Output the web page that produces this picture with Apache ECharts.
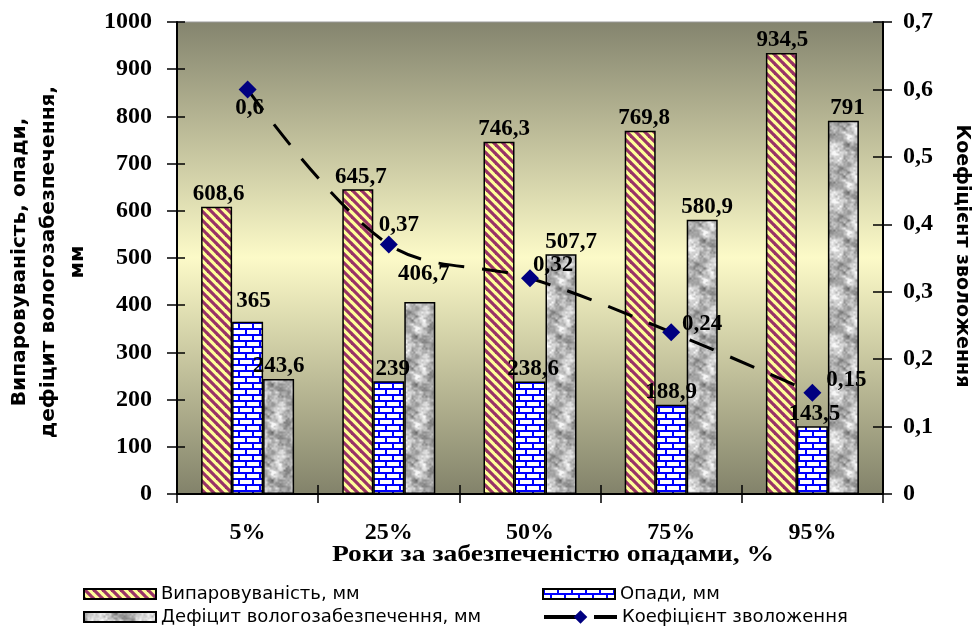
<!DOCTYPE html>
<html>
<head>
<meta charset="utf-8">
<script src="https://cdn.jsdelivr.net/npm/echarts@6/dist/echarts.min.js"></script>
<style>
  html, body { margin: 0; padding: 0; background: #ffffff; }
  #chart { width: 973px; height: 631px; }
</style>
</head>
<body>
<div id="chart"></div>
<script>
// ---- data ----
const categories = ['5%', '25%', '50%', '75%', '95%'];
const evaporation = [608.6, 645.7, 746.3, 769.8, 934.5];
const precipitation = [365, 239, 238.6, 188.9, 143.5];
const deficit = [243.6, 406.7, 507.7, 580.9, 791];
const moistureCoef = [0.6, 0.37, 0.32, 0.24, 0.15];

// axis scales: [min, max, step]
const mmAxis = [0, 1000, 100];
const coefAxis = [0, 0.7, 0.1];

const seriesNames = ['Випаровуваність, мм', 'Опади, мм', 'Дефіцит вологозабезпечення, мм', 'Коефіцієнт зволоження'];

// ---- label nudges (pixels) ----
const evapShift = [[2, 0], [3, 0], [5, 0], [4, 0], [1, 0]];
const precShift = [[6, -8], [4, 0], [3, 0], [0, 0], [2, 0]];
const defShift = [[0, 0], [4, -15], [10, 0], [5, 0], [4, 0]];
const coefShift = [[2, 19], [10, -19], [23, -13], [31, -8], [34, -13]];

const comma = v => String(v).replace('.', ',');

// ---- fill patterns ----
function stripeTile() {
  const s = 9;
  const c = document.createElement('canvas');
  c.width = s; c.height = s;
  const g = c.getContext('2d');
  g.fillStyle = '#ffff99';
  g.fillRect(0, 0, s, s);
  g.strokeStyle = '#993366';
  g.lineWidth = 3.2;
  for (let o = -s; o <= s; o += s) {
    g.beginPath();
    g.moveTo(o - 1, -1);
    g.lineTo(o + s + 1, s + 1);
    g.stroke();
  }
  return c;
}

function brickTile() {
  const w = 14, h = 12;
  const c = document.createElement('canvas');
  c.width = w; c.height = h;
  const g = c.getContext('2d');
  g.fillStyle = '#0000ff';
  g.fillRect(0, 0, w, h);
  g.fillStyle = '#ffffff';
  g.fillRect(2, 0, 12, 4);
  g.fillRect(0, 6, 7, 4);
  g.fillRect(9, 6, 5, 4);
  return c;
}

function hash2(x, y, s) {
  let n = Math.imul(x, 374761393) ^ Math.imul(y, 668265263) ^ Math.imul(s, 1274126177);
  n = Math.imul(n ^ (n >>> 13), 1274126177);
  n ^= n >>> 16;
  return (n >>> 0) / 4294967296;
}
function valueNoise(x, y, cell, size, seed) {
  const n = size / cell;
  const gx = x / cell, gy = y / cell;
  const x0 = Math.floor(gx), y0 = Math.floor(gy);
  const fx = gx - x0, fy = gy - y0;
  const sx = fx * fx * (3 - 2 * fx), sy = fy * fy * (3 - 2 * fy);
  const a = hash2(x0 % n, y0 % n, seed);
  const b = hash2((x0 + 1) % n, y0 % n, seed);
  const c = hash2(x0 % n, (y0 + 1) % n, seed);
  const d = hash2((x0 + 1) % n, (y0 + 1) % n, seed);
  return a + (b - a) * sx + (c - a) * sy + (a - b - c + d) * sx * sy;
}
function graniteTile() {
  const s = 48;
  const c = document.createElement('canvas');
  c.width = s; c.height = s;
  const g = c.getContext('2d');
  const img = g.createImageData(s, s);
  for (let y = 0; y < s; y++) {
    for (let x = 0; x < s; x++) {
      const v = 0.4 * valueNoise(x, y, 8, s, 1) + 0.35 * valueNoise(x, y, 4, s, 2) + 0.25 * valueNoise(x, y, 2, s, 3);
      let gray = 85 + 200 * v;
      gray = Math.max(100, Math.min(248, gray));
      const i = (y * s + x) * 4;
      img.data[i] = gray; img.data[i + 1] = gray; img.data[i + 2] = gray; img.data[i + 3] = 255;
    }
  }
  g.putImageData(img, 0, 0);
  return c;
}

const stripeFill = { image: stripeTile(), repeat: 'repeat' };
const brickFill = { image: brickTile(), repeat: 'repeat' };
const graniteFill = { image: graniteTile(), repeat: 'repeat' };

// ---- text styles ----
const serifBold = { fontFamily: 'Liberation Serif', fontWeight: 'bold', color: '#000' };
const barLabel = Object.assign({ show: true, position: 'top', distance: 1, fontSize: 23, formatter: p => comma(p.value) }, serifBold);

function barData(values, shifts) {
  return values.map((v, i) => ({ value: v, label: { offset: shifts[i] } }));
}

const legendText = { fontFamily: 'DejaVu Sans', fontSize: 18, color: '#000', lineHeight: 20 };
function legendAt(name, left, top, extra) {
  return Object.assign({
    data: [{ name: name, icon: 'rect' }], left: left, top: top, padding: 0,
    itemWidth: 72, itemHeight: 10, selectedMode: false,
    textStyle: legendText
  }, extra || {});
}

const chart = echarts.init(document.getElementById('chart'), null, { renderer: 'canvas' });

const axisBlack = { lineStyle: { color: '#000', width: 2 } };
const tickStyle = { color: '#000', width: 1.5 };

const option = {
  animation: false,
  grid: {
    left: 177, right: 90, top: 22, bottom: 137,
    show: true,
    borderColor: '#9a9a9a', borderWidth: 1,
    backgroundColor: {
      type: 'linear', x: 0, y: 0, x2: 0, y2: 1,
      colorStops: [
        { offset: 0, color: '#84846e' },
        { offset: 0.5, color: '#fcfac8' },
        { offset: 1, color: '#82826a' }
      ]
    }
  },
  legend: [
    legendAt(seriesNames[0], 83, 584),
    legendAt(seriesNames[2], 83, 607),
    legendAt(seriesNames[1], 542, 584),
    Object.assign(legendAt(seriesNames[3], 542, 607, { itemWidth: 73, itemHeight: 17, lineStyle: { type: [36, 14], width: 4 } }), { data: [seriesNames[3]] })
  ],
  xAxis: [
    {
      type: 'category', data: categories, boundaryGap: true,
      axisLine: axisBlack,
      axisTick: { show: true, length: 9, alignWithLabel: false, lineStyle: tickStyle },
      axisLabel: Object.assign({ fontSize: 24, margin: 27 }, serifBold),
      splitLine: { show: false }
    },
    {
      type: 'category', data: categories, position: 'bottom', boundaryGap: true,
      axisLine: { show: false },
      axisTick: { show: true, inside: true, length: 9, alignWithLabel: false, lineStyle: tickStyle },
      axisLabel: { show: false }, splitLine: { show: false }
    }
  ],
  yAxis: [
    {
      type: 'value', min: mmAxis[0], max: mmAxis[1], interval: mmAxis[2], position: 'left',
      axisLine: Object.assign({ show: true }, axisBlack),
      axisTick: { show: true, length: 10, lineStyle: tickStyle },
      axisLabel: Object.assign({ fontSize: 24, margin: 25, formatter: v => String(v) }, serifBold),
      splitLine: { show: false }
    },
    {
      type: 'value', min: coefAxis[0], max: coefAxis[1], interval: coefAxis[2], position: 'right',
      axisLine: Object.assign({ show: true }, axisBlack),
      axisTick: { show: true, length: 9, lineStyle: tickStyle },
      axisLabel: Object.assign({ fontSize: 24, margin: 20, formatter: v => v === 0 ? '0' : v.toFixed(1).replace('.', ',') }, serifBold),
      splitLine: { show: false }
    },
    {
      type: 'value', min: mmAxis[0], max: mmAxis[1], interval: mmAxis[2], position: 'left',
      axisLine: { show: false },
      axisTick: { show: true, inside: true, length: 8, lineStyle: tickStyle },
      axisLabel: { show: false }, splitLine: { show: false }
    },
    {
      type: 'value', min: coefAxis[0], max: coefAxis[1], interval: coefAxis[2], position: 'right',
      axisLine: { show: false },
      axisTick: { show: true, inside: true, length: 10, lineStyle: tickStyle },
      axisLabel: { show: false }, splitLine: { show: false }
    }
  ],
  series: [
    {
      name: seriesNames[0], type: 'bar', barWidth: 31, barGap: '0%',
      itemStyle: { color: stripeFill, borderColor: '#000', borderWidth: 1.5 },
      label: barLabel,
      data: barData(evaporation, evapShift)
    },
    {
      name: seriesNames[1], type: 'bar', barWidth: 31, barGap: '0%',
      itemStyle: { color: brickFill, borderColor: '#000', borderWidth: 1.5 },
      label: barLabel,
      data: barData(precipitation, precShift)
    },
    {
      name: seriesNames[2], type: 'bar', barWidth: 31, barGap: '0%',
      itemStyle: { color: graniteFill, borderColor: '#000', borderWidth: 1.5 },
      label: barLabel,
      data: barData(deficit, defShift)
    },
    {
      name: seriesNames[3], type: 'line', yAxisIndex: 1, smooth: 0.35,
      symbol: 'diamond', symbolSize: 18,
      itemStyle: { color: '#000080' },
      lineStyle: { color: '#000', width: 3, type: [26, 18] },
      label: Object.assign({ show: true, position: 'inside', fontSize: 23, formatter: p => comma(p.value) }, serifBold),
      data: moistureCoef.map((v, i) => ({ value: v, label: { offset: coefShift[i] } })),
      z: 5
    }
  ],
  graphic: [
    {
      type: 'text', x: 49, y: 262, rotation: Math.PI / 2, scaleX: 1.06,
      style: {
        text: 'Випаровуваність, опади,\nдефіцит вологозабезпечення,\nмм',
        fontFamily: 'DejaVu Sans', fontWeight: 'bold', fontSize: 19, lineHeight: 29,
        align: 'center', verticalAlign: 'middle', fill: '#000'
      }
    },
    {
      type: 'text', x: 962, y: 256, rotation: -Math.PI / 2,
      style: {
        text: 'Коефіцієнт зволоження',
        fontFamily: 'DejaVu Sans', fontWeight: 'bold', fontSize: 19,
        align: 'center', verticalAlign: 'middle', fill: '#000'
      }
    },
    {
      type: 'text', x: 553, y: 555, scaleX: 1.2,
      style: {
        text: 'Роки за забезпеченістю опадами, %',
        fontFamily: 'Liberation Serif', fontWeight: 'bold', fontSize: 23,
        align: 'center', verticalAlign: 'middle', fill: '#000'
      }
    }
  ]
};

chart.setOption(option);
</script>
</body>
</html>
